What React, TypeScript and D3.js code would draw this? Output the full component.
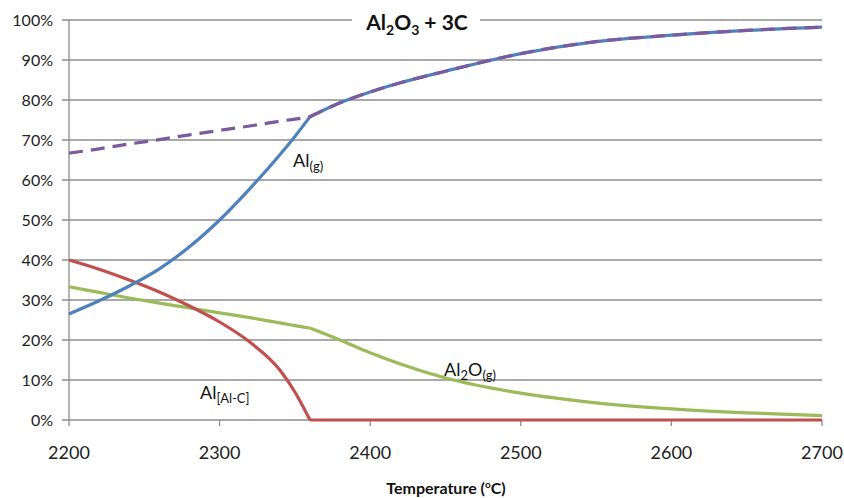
import React from 'react';
import * as d3 from 'd3';

// temperatures (°C) at which the curves were read
const temps = [2200, 2220, 2240, 2260, 2280, 2300, 2320, 2340, 2350, 2360, 2380, 2400, 2420, 2450, 2500, 2550, 2600, 2650, 2700];
// Al(g)
const alGas = [26.5, 29.8, 33.5, 37.8, 43.3, 50, 57.8, 66.3, 70.9, 75.8, 79.3, 82, 84.3, 87.2, 91.6, 94.6, 96.2, 97.4, 98.2];
// Al[Al-C]
const alAlC = [40, 37.7, 35, 32, 28.5, 24.5, 19.5, 12.5, 7, 0, 0, 0, 0, 0, 0, 0, 0, 0, 0];
// Al2O(g)
const al2OGas = [33.3, 31.9, 30.5, 29.2, 28, 26.8, 25.6, 24.3, 23.6, 23, 20, 16.8, 14, 10.5, 6.7, 4.3, 2.8, 1.8, 1.1];
// total Al (dashed)
const alTotal = [66.7, 67.8, 69, 70.1, 71.3, 72.4, 73.5, 74.7, 75.2, 75.8, 79.3, 82, 84.3, 87.2, 91.6, 94.6, 96.2, 97.4, 98.2];

const xTicks = [2200, 2300, 2400, 2500, 2600, 2700];
const yTicks = [0, 10, 20, 30, 40, 50, 60, 70, 80, 90, 100];
const breakTemp = 2360;

const W = 844;
const H = 498;
const margin = { top: 20, right: 22, bottom: 78, left: 69 };
const FONT = 'Lato, "Open Sans", sans-serif';

const App = () => {
    const x = d3.scaleLinear()
        .domain([2200, 2700])
        .range([margin.left, W - margin.right]);
    const y = d3.scaleLinear()
        .domain([0, 100])
        .range([H - margin.bottom, margin.top]);

    const line = d3.line<[number, number]>()
        .x(d => x(d[0]))
        .y(d => y(d[1]))
        .curve(d3.curveMonotoneX);

    // split a series at the break so the kink stays sharp
    const segments = (vals: number[]) => {
        const pts = temps.map((t, i) => [t, vals[i]] as [number, number]);
        const k = temps.indexOf(breakTemp);
        return [line(pts.slice(0, k + 1)), line(pts.slice(k))];
    };

    const series = [
        { vals: al2OGas, color: '#9bbb59' },
        { vals: alAlC, color: '#c0504d' },
        { vals: alGas, color: '#4f81bd' },
    ];

    const x0 = x.range()[0];
    const x1 = x.range()[1];
    const y0 = y(0);

    return (
        <svg width={W} height={H} style={{ position: 'absolute', left: 0, top: 0, background: '#fff' }}
            fontFamily={FONT}>
            <rect x={0} y={0} width={W} height={H} fill="#fff" />
            {/* grid */}
            {yTicks.map(t => (
                <line key={'g' + t} x1={x0 - 7} x2={x1} y1={y(t)} y2={y(t)} stroke="#8c8c8c" strokeWidth={1.3} />
            ))}
            <line x1={x0} x2={x0} y1={y(100)} y2={y0} stroke="#8c8c8c" strokeWidth={1.3} />
            {xTicks.map(t => (
                <line key={'xt' + t} x1={x(t)} x2={x(t)} y1={y0} y2={y0 + 6} stroke="#8c8c8c" strokeWidth={1.3} />
            ))}

            {/* y labels */}
            {yTicks.map(t => (
                <text key={'yl' + t} x={53} y={y(t)} dy="0.36em" textAnchor="end" fontSize={16} fill="#222">{t}%</text>
            ))}
            {/* x labels */}
            {xTicks.map(t => (
                <text key={'xl' + t} x={x(t)} y={459} textAnchor="middle" fontSize={18} fill="#222">{t}</text>
            ))}

            {/* curves */}
            {series.map((s, i) => segments(s.vals).map((d, j) => (
                <path key={i + '-' + j} d={d || ''} fill="none" stroke={s.color} strokeWidth={3.2}
                    strokeLinejoin="round" strokeLinecap="butt" />
            )))}
            {segments(alTotal).map((d, j) => (
                <path key={'tot' + j} d={d || ''} fill="none" stroke="#7b5a9e" strokeWidth={3.2}
                    strokeDasharray="14,8" />
            ))}

            {/* title */}
            <rect x={352} y={6} width={128} height={30} fill="#fff" />
            <text x={417} y={30} textAnchor="middle" fontSize={21} fontWeight="bold" fill="#111">
                Al<tspan fontSize={14} dy={5}>2</tspan><tspan dy={-5}>O</tspan><tspan fontSize={14} dy={5}>3</tspan><tspan dy={-5}> + 3C</tspan>
            </text>

            {/* series labels */}
            <text x={293} y={167} fontSize={18} fill="#111">
                Al<tspan fontSize={13} dy={4}>(g)</tspan>
            </text>
            <text x={200} y={399} fontSize={18} fill="#111">
                Al<tspan fontSize={13} dy={4}>[Al-C]</tspan>
            </text>
            <text x={444} y={376} fontSize={18} fill="#111">
                Al<tspan fontSize={13} dy={4}>2</tspan><tspan dy={-4}>O</tspan><tspan fontSize={13} dy={4}>(g)</tspan>
            </text>

            {/* axis title */}
            <text x={446} y={494} textAnchor="middle" fontSize={16} fontWeight="bold" fill="#111">
                Temperature (<tspan fontSize={10} dy={-6}>o</tspan><tspan dy={6}>C)</tspan>
            </text>
        </svg>
    );
};

export default App;
